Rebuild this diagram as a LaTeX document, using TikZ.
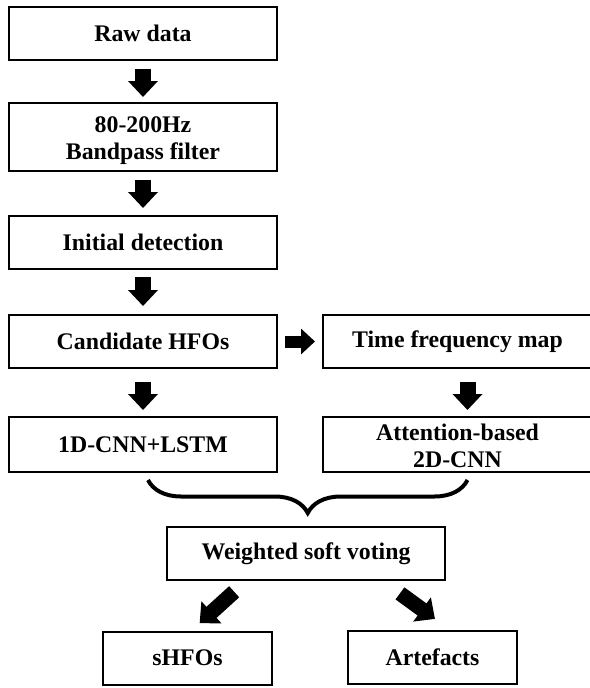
\documentclass[tikz,border=0pt]{standalone}
\usepackage{fontspec}
\setmainfont{Liberation Serif}
\usetikzlibrary{arrows.meta,decorations.pathreplacing}

\begin{document}
\begin{tikzpicture}[x=1pt,y=-1pt,
	  every node/.append style={font=\bfseries\fontsize{23.8}{27}\selectfont},
	  fat/.style={line width=16pt,-{Triangle[length=16pt,width=29pt]},shorten <=8pt,shorten >=6pt},
	  slim/.style={line width=12pt,-{Triangle[length=14pt,width=25pt]},shorten <=7pt,shorten >=7pt}]
	  \tikzstyle{box} = [draw,line width=2pt,align=center,inner sep=0pt,minimum width=268pt,minimum height=53pt]
	  \tikzstyle{twoline} = [text height=50pt,text depth=5pt]
	  \tikzstyle{leaf} = [box,minimum width=169pt]
	  \useasboundingbox (0,0) rectangle (589,688);
	  \node (1_1) [box] at (143,33) {Raw data};
	  \node (1_2) [box,twoline,minimum height=68pt] at (143,137) {80-200Hz\\Bandpass filter};
	  \node (1_3) [box] at (143,242.5) {Initial detection};
	  \node (1_4) [box] at (143,341.5) {Candidate HFOs};
	  \node (1_5) [box,minimum height=55pt] at (143,444.5) {1D-CNN+LSTM};
	  \node (2_4) [box,minimum width=269pt] at (457.5,341.5) {Time frequency map};
	  \node (2_5) [box,twoline,minimum width=269pt,minimum height=55pt] at (457.5,444.5) {Attention-based\\2D-CNN};
	  \node (3_1) [box,minimum width=278pt] at (306,553.5) {Weighted soft voting};
	  \node (4_1) [leaf] at (187.5,658) {sHFOs};
	  \node (4_2) [leaf] at (432.5,657) {Artefacts};
	  \draw[fat,shorten >=5pt] (1_1) -- (1_2);
	  \draw[fat,shorten >=7pt] (1_2) -- (1_3);
	  \draw[fat,shorten <=7pt,shorten >=8pt] (1_3) -- (1_4);
	  \draw[fat,shorten <=13pt] (1_4) -- (1_5);
	  \draw[slim] (1_4) -- (2_4);
	  \draw[fat,shorten <=13pt] ([xshift=10pt]2_4.south) -- ([xshift=10pt]2_5.north);
	  \draw[line width=4pt,decorate,decoration={brace,mirror,amplitude=33pt}]
	    ([xshift=5pt,yshift=-7pt]1_5.south) -- ([xshift=10pt,yshift=-7pt]2_5.south);
	  \draw[fat,line width=15pt,shorten <=16pt,shorten >=11pt] ([xshift=-60pt]3_1.south) -- ([xshift=4pt]4_1.north);
	  \draw[fat,line width=15pt,shorten <=21pt,shorten >=18pt] ([xshift=77pt]3_1.south) -- ([xshift=17pt]4_2.north);
	\end{tikzpicture}
\end{document}
